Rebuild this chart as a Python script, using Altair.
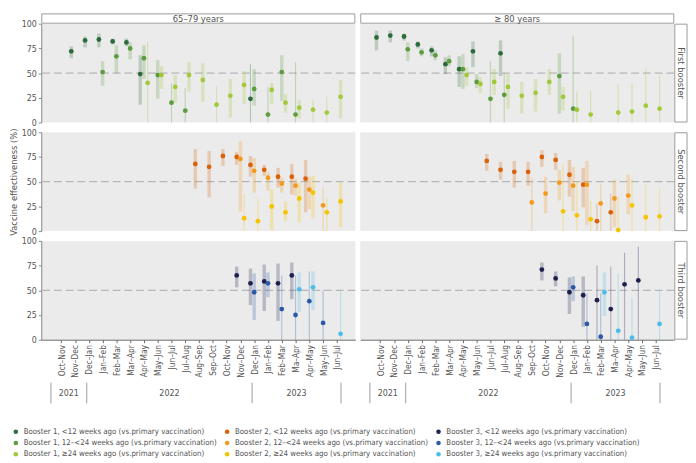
import altair as alt
import pandas as pd

FONT = "Liberation Sans Narrow, DejaVu Sans Condensed, Arial Narrow, sans-serif"
TXT = "#555555"

months = ["Oct–Nov", "Nov–Dec", "Dec–Jan", "Jan–Feb", "Feb–Mar", "Mar–Apr", "Apr–May",
          "May–Jun", "Jun–Jul", "Jul–Aug", "Aug–Sep", "Sep–Oct", "Oct–Nov", "Nov–Dec",
          "Dec–Jan", "Jan–Feb", "Feb–Mar", "Ma–Apr", "Apr–May", "May–Jun", "Jun–Jul"]
ages = ["65–79 years", "≥ 80 years"]
boosters = ["First booster", "Second booster", "Third booster"]
intervals = ["<12 weeks ago", "12–<24 weeks ago", "≥24 weeks ago"]
years = ["2021", "2022", "2023"]
year_edges = [-0.75, 1.85, 13.85, 20.3]

b1_colors = ["#2e6b3c", "#5d9c3f", "#a2c93a"]
b2_colors = ["#d9620b", "#f39a1e", "#f5c400"]
b3_colors = ["#1e2150", "#2c5aa8", "#4cbdeb"]

# (month index, VE, lower CI or None if below 0, upper CI)
b1_a65_lt12 = [(1, 72, 65, 77), (2, 83, 76, 87), (3, 84, 76, 90), (4, 82, 79, 85), (5, 81, 77, 85),
               (6, 49, 18, 68), (14, 24, None, 59)]
b1_a65_12_24 = [(3, 51, 37, 62), (4, 67, 50, 78), (5, 75, 64, 81), (6, 65, 44, 78), (7, 48, 24, 63),
                (8, 20, None, 40), (9, 12, None, 35), (14, 34, 17, 54), (15, 8, None, 36),
                (16, 51, 22, 68), (17, 8, None, 61)]
b1_a65_ge24 = [(6, 40, None, 82), (7, 48, 34, 57), (8, 36, 20, 48), (9, 48, 31, 61), (10, 43, 21, 60),
               (11, 18, None, 37), (12, 27, 5, 44), (13, 38, 19, 52), (15, 33, 19, 40), (16, 20, 10, 29),
               (17, 15, 4, 23), (18, 13, None, 23), (19, 10, None, 26), (20, 26, 4, 43)]
b1_a80_lt12 = [(0, 86, 73, 93), (1, 88, 81, 93), (2, 87, 83, 90), (3, 79, 75, 82), (4, 73, 67, 77),
               (5, 59, 49, 66), (6, 54, 36, 67), (7, 72, 56, 82), (9, 70, 47, 83)]
b1_a80_12_24 = [(2, 74, 62, 81), (3, 71, 67, 75), (4, 68, 63, 73), (5, 62, 57, 68), (6, 54, 34, 69),
                (7, 41, 35, 49), (8, 24, None, 62), (9, 28, None, 50), (13, 47, 9, 70), (14, 14, None, 88)]
b1_a80_ge24 = [(6, 48, 37, 56), (7, 39, 30, 46), (8, 41, 28, 54), (9, 36, 14, 49), (10, 27, 9, 41),
               (11, 30, 11, 44), (12, 41, 28, 54), (13, 26, 12, 36), (14, 13, None, 31), (15, 8, None, 32),
               (17, 10, None, 39), (18, 11, None, 40), (19, 17, None, 55), (20, 14, None, 48)]

b2_a65_lt12 = [(10, 68, 43, 83), (11, 65, 34, 81), (12, 76, 66, 83), (13, 75, 67, 80), (14, 67, 55, 76),
               (15, 62, 56, 67), (16, 55, 44, 64), (17, 55, 37, 68), (18, 53, 19, 72)]
b2_a65_12_24 = [(13, 73, 20, 91), (14, 61, 39, 74), (15, 54, 41, 60), (16, 48, 39, 54), (17, 46, 36, 53),
                (18, 42, 22, 55), (19, 26, None, 44)]
b2_a65_ge24 = [(13, 13, None, 38), (14, 10, None, 33), (15, 25, 1, 42), (16, 19, 10, 30), (17, 33, 9, 49),
               (18, 39, 13, 56), (19, 19, None, 34), (20, 30, 4, 49)]
b2_a80_lt12 = [(8, 71, 61, 78), (9, 62, 52, 70), (10, 60, 44, 71), (11, 60, 46, 70), (12, 75, 65, 82),
               (13, 72, 62, 79), (14, 57, 35, 72), (15, 47, 24, 64), (16, 10, None, 28), (17, 19, None, 38)]
b2_a80_12_24 = [(11, 29, None, 54), (12, 38, 18, 55), (13, 49, 31, 62), (14, 46, 20, 65), (15, 47, 6, 71),
                (16, 28, None, 48), (17, 33, 4, 52), (18, 36, 17, 57)]
b2_a80_ge24 = [(13, 20, None, 68), (14, 16, None, 51), (15, 12, None, 31), (17, 1, None, 35),
               (18, 26, None, 54), (19, 14, None, 47), (20, 15, None, 44)]

b3_a65_lt12 = [(13, 65, 53, 74), (14, 57, 35, 72), (15, 59, 29, 76), (16, 57, 19, 77), (17, 65, 41, 78)]
b3_a65_12_24 = [(14, 48, 20, 67), (15, 57, 43, 68), (16, 31, None, 65), (17, 25, None, 65),
                (18, 39, None, 69), (19, 17, None, 50)]
b3_a65_ge24 = [(17, 51, 28, 68), (18, 53, 30, 69), (20, 6, None, 49)]
b3_a80_lt12 = [(12, 71, 60, 78), (13, 62, 54, 69), (14, 48, 26, 63), (15, 45, 13, 64), (16, 40, None, 75),
               (17, 31, None, 74), (18, 56, None, 88), (19, 60, None, 94)]
b3_a80_12_24 = [(14, 53, 39, 64), (15, 16, None, 47), (16, 3, None, 47)]
b3_a80_ge24 = [(16, 48, 24, 68), (17, 9, None, 67), (18, 2, None, 42), (20, 16, None, 50)]

series = {
    (0, 0): [b1_a65_lt12, b1_a65_12_24, b1_a65_ge24],
    (0, 1): [b1_a80_lt12, b1_a80_12_24, b1_a80_ge24],
    (1, 0): [b2_a65_lt12, b2_a65_12_24, b2_a65_ge24],
    (1, 1): [b2_a80_lt12, b2_a80_12_24, b2_a80_ge24],
    (2, 0): [b3_a65_lt12, b3_a65_12_24, b3_a65_ge24],
    (2, 1): [b3_a80_lt12, b3_a80_12_24, b3_a80_ge24],
}
palettes = [b1_colors, b2_colors, b3_colors]
offsets = [-0.27, 0.0, 0.27]


def sname(b, k):
    return f"Booster {b + 1}, {intervals[k]} (vs.primary vaccination)"


legend_order = [sname(b, k) for b in range(3) for k in range(3)]
legend_colors = [palettes[b][k] for b in range(3) for k in range(3)]

recs = []
for (b, a), groups in series.items():
    for k, pts in enumerate(groups):
        for (i, v, lo, hi) in pts:
            recs.append(dict(b=b, a=a, x=i + offsets[k], ve=v,
                             lo=0 if lo is None else lo, hi=min(hi, 100),
                             trunc=lo is None, series=sname(b, k), hex=palettes[b][k]))
df = pd.DataFrame(recs)

W, H, SP = 321, 101, 10
month_expr = "[" + ",".join(f"'{m}'" for m in months) + "][datum.value]"
xs = alt.Scale(domain=[-1.45, 21.34], nice=False, zero=False)
ys = alt.Scale(domain=[0, 100], nice=False, clamp=True)
one = pd.DataFrame({"d": [0]})


def panel(b, a):
    d = df[(df.b == b) & (df.a == a)]
    if b == 2:
        xaxis = alt.Axis(values=list(range(21)), labelExpr=month_expr, labelAngle=-90, tickSize=3,
                         labelFontSize=8.5, labelColor=TXT, domainColor="#666", tickColor="#666",
                         grid=False, title=None, labelPadding=2, labelFont=FONT)
    else:
        xaxis = None
    if a == 0:
        yaxis = alt.Axis(values=[0, 25, 50, 75, 100], tickSize=3, labelFontSize=9, labelColor=TXT,
                         domainColor="#888", tickColor="#888", grid=False, labelPadding=2,
                         labelFont=FONT,
                         title="Vaccine effectiveness (%)" if b == 1 else None,
                         titleFontSize=9.5, titleFontWeight="normal", titleColor=TXT,
                         titlePadding=3, titleFont=FONT)
    else:
        yaxis = None

    ref = alt.Chart(pd.DataFrame({"v": [50]})).mark_rule(
        strokeDash=[8, 4], color="#a9a9a9", strokeWidth=1).encode(
        y=alt.Y("v:Q", scale=ys, axis=yaxis))
    thick = alt.Chart(d[~d.trunc]).mark_rule(strokeWidth=3.5, strokeOpacity=0.25).encode(
        x=alt.X("x:Q", scale=xs, axis=xaxis),
        y=alt.Y("lo:Q", scale=ys, axis=yaxis), y2="hi:Q",
        stroke=alt.Stroke("hex:N", scale=None))
    thin = alt.Chart(d[d.trunc]).mark_rule(strokeWidth=1.2, strokeOpacity=0.3).encode(
        x=alt.X("x:Q", scale=xs, axis=xaxis),
        y=alt.Y("lo:Q", scale=ys, axis=yaxis), y2="hi:Q",
        stroke=alt.Stroke("hex:N", scale=None))
    pts = alt.Chart(d).mark_circle(size=24, opacity=1).encode(
        x=alt.X("x:Q", scale=xs, axis=xaxis),
        y=alt.Y("ve:Q", scale=ys, axis=yaxis),
        color=alt.Color("series:N", scale=alt.Scale(domain=legend_order, range=legend_colors),
                        legend=alt.Legend(orient="none", legendX=-30, legendY=H * 3 + SP * 2 + 90,
                                          columns=3, direction="vertical", gridAlign="each",
                                          title=None, symbolType="circle",
                                          symbolSize=22, symbolOpacity=1, labelFontSize=8,
                                          labelColor=TXT, labelFont=FONT, rowPadding=3.5,
                                          columnPadding=6, labelLimit=400, labelOffset=4)))
    layers = [ref, thick, thin, pts]

    if b == 0:
        layers.append(alt.Chart(one).mark_rect(fill="white", stroke="#9a9a9a", strokeWidth=1).encode(
            x=alt.value(0.5), x2=alt.value(W - 0.5), y=alt.value(-10), y2=alt.value(-0.5)))
        layers.append(alt.Chart(one).mark_text(fontSize=9.5, color=TXT, font=FONT, baseline="middle").encode(
            x=alt.value(W / 2), y=alt.value(-5), text=alt.value(ages[a])))
    if a == 1:
        layers.append(alt.Chart(one).mark_rect(fill="white", stroke="#9a9a9a", strokeWidth=1).encode(
            x=alt.value(W + 0.5), x2=alt.value(W + 13), y=alt.value(0.5), y2=alt.value(H - 0.5)))
        layers.append(alt.Chart(one).mark_text(fontSize=9.5, color=TXT, font=FONT, angle=90,
                                               baseline="middle").encode(
            x=alt.value(W + 7), y=alt.value(H / 2), text=alt.value(boosters[b])))
    if b == 2:
        edges = pd.DataFrame({"e": year_edges})
        mids = pd.DataFrame({"m": [(year_edges[j] + year_edges[j + 1]) / 2 for j in range(3)],
                             "year": years})
        layers.append(alt.Chart(edges).mark_rule(color="#9a9a9a", strokeWidth=1).encode(
            x=alt.X("e:Q", scale=xs, axis=xaxis), y=alt.value(H + 44), y2=alt.value(H + 65)))
        layers.append(alt.Chart(mids).mark_text(fontSize=9, color=TXT, font=FONT, baseline="middle").encode(
            x=alt.X("m:Q", scale=xs, axis=xaxis), y=alt.value(H + 55), text="year:N"))

    return alt.layer(*layers).properties(width=W, height=H)


panels = [panel(b, a) for b in range(3) for a in range(2)]

chart = alt.concat(*panels, columns=2, spacing={"row": SP, "column": 5}, bounds="flush").properties(
    padding=0
).configure(font=FONT).configure_view(fill="#ebebeb", stroke=None)

chart.save("out.html", embed_options={"renderer": "svg", "actions": False})
